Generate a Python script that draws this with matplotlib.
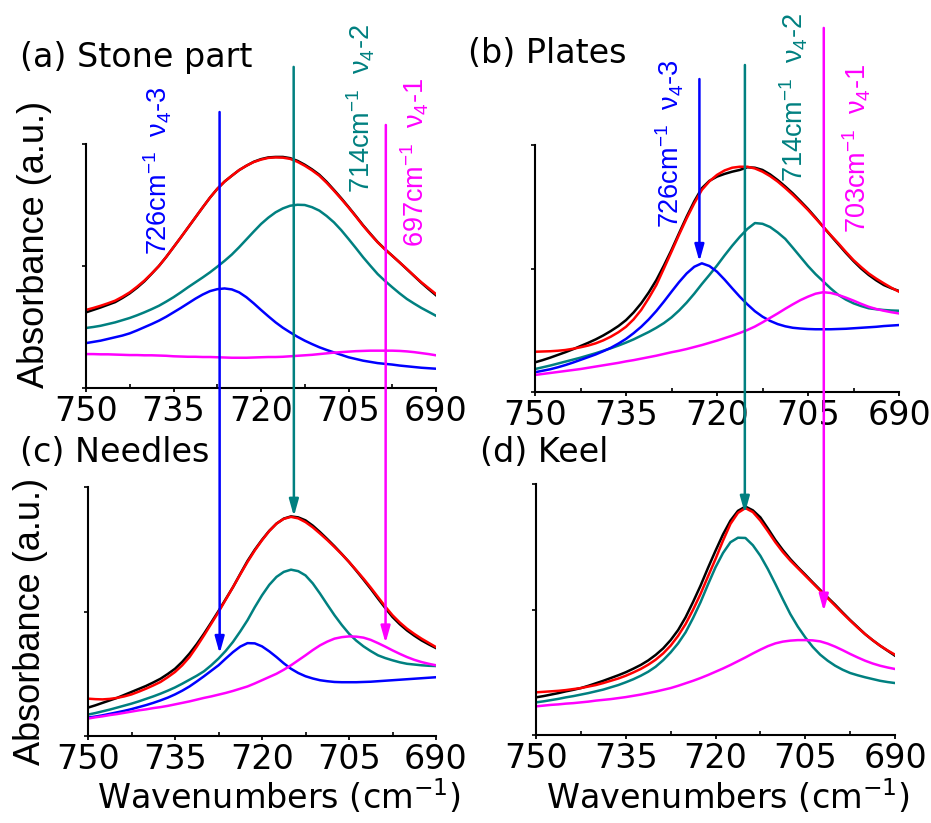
import numpy as np
import matplotlib
matplotlib.use("Agg")
import matplotlib.pyplot as plt
from matplotlib.patches import ConnectionPatch

plt.rcParams["font.family"] = "DejaVu Sans"
plt.rcParams["mathtext.fontset"] = "custom"
plt.rcParams["mathtext.rm"] = "Liberation Sans"
plt.rcParams["mathtext.it"] = "Liberation Sans:italic"
plt.rcParams["mathtext.bf"] = "Liberation Sans:bold"

# wavenumbers (cm-1), sampled every 1.25 from 750 down to 690
wavenumber = np.linspace(750, 690, 49)

# (a) Stone part
stone_measured = [.310, .320, .330, .341, .352, .369, .388, .411, .437, .468, .500, .537, .577, .617,
                  .658, .699, .740, .780, .816, .846, .870, .893, .911, .927, .938, .945, .947, .947,
                  .942, .931, .915, .896, .874, .845, .812, .778, .742, .705, .667, .632, .598, .569,
                  .542, .515, .487, .459, .431, .405, .380]
stone_fit = [.320, .328, .337, .347, .358, .374, .392, .415, .440, .469, .500, .537, .577, .617,
             .658, .699, .740, .780, .816, .846, .870, .893, .911, .926, .936, .943, .945, .944,
             .939, .927, .911, .892, .870, .841, .809, .775, .740, .703, .665, .630, .597, .568,
             .542, .515, .488, .460, .433, .409, .385]
stone_v4_2 = [.246, .250, .255, .262, .269, .278, .287, .298, .310, .323, .337, .354, .372, .392,
              .413, .433, .453, .474, .497, .521, .547, .577, .609, .641, .672, .698, .720, .736,
              .747, .751, .750, .741, .727, .705, .679, .647, .611, .574, .536, .501, .467, .439,
              .413, .388, .365, .346, .328, .312, .296]
stone_v4_3 = [.184, .189, .194, .201, .208, .215, .224, .236, .249, .262, .276, .292, .310, .328,
              .347, .366, .383, .397, .405, .408, .404, .392, .372, .347, .320, .294, .269, .247,
              .228, .210, .194, .180, .167, .156, .146, .136, .126, .119, .112, .107, .102, .099,
              .096, .092, .089, .086, .083, .081, .079]
stone_v4_1 = [.139, .139, .138, .138, .137, .136, .135, .135, .134, .134, .133, .132, .130, .129,
              .128, .128, .127, .127, .126, .125, .124, .124, .124, .125, .126, .127, .127, .128,
              .130, .132, .134, .136, .139, .142, .145, .147, .149, .151, .152, .153, .153, .153,
              .153, .152, .150, .147, .143, .139, .134]

# (b) Plates
plates_measured = [.120, .129, .139, .150, .161, .173, .186, .199, .213, .229, .247, .267, .291, .322,
                   .359, .403, .453, .512, .575, .643, .710, .772, .825, .855, .872, .883, .892, .899,
                   .910, .908, .899, .881, .858, .832, .804, .773, .741, .706, .669, .633, .598, .563,
                   .530, .500, .474, .452, .433, .420, .409]
plates_fit = [.163, .164, .165, .167, .170, .175, .181, .188, .197, .209, .224, .242, .264, .294,
              .332, .380, .433, .500, .568, .637, .703, .764, .818, .853, .879, .897, .908, .912,
              .912, .905, .892, .874, .852, .826, .798, .768, .737, .703, .669, .635, .602, .567,
              .534, .506, .480, .459, .440, .422, .406]
plates_v4_2 = [.093, .100, .107, .115, .123, .131, .139, .148, .157, .167, .177, .188, .200, .213,
               .228, .243, .260, .279, .302, .330, .362, .398, .437, .474, .512, .553, .592, .628,
               .660, .684, .681, .668, .646, .620, .584, .547, .510, .477, .448, .419, .393, .374,
               .359, .348, .339, .335, .332, .330, .329]
plates_v4_3 = [.080, .086, .092, .100, .109, .119, .130, .141, .152, .165, .179, .196, .215, .238,
               .264, .294, .328, .366, .406, .445, .480, .507, .521, .510, .487, .455, .420, .386,
               .355, .327, .305, .288, .275, .266, .260, .257, .255, .254, .254, .254, .255, .256,
               .258, .260, .262, .264, .267, .269, .271]
plates_v4_1 = [.069, .073, .077, .081, .085, .089, .093, .098, .103, .108, .113, .118, .124, .129,
               .135, .141, .147, .154, .161, .167, .174, .182, .190, .199, .208, .218, .228, .239,
               .251, .265, .282, .300, .318, .337, .355, .372, .386, .398, .404, .401, .393, .382,
               .370, .357, .345, .336, .329, .323, .318]

# (c) Needles
needles_measured = [.114, .123, .133, .143, .153, .165, .177, .189, .201, .215, .230, .249, .270, .298,
                    .331, .369, .411, .456, .502, .550, .598, .651, .703, .748, .788, .824, .853, .873,
                    .882, .878, .866, .845, .819, .791, .762, .731, .699, .664, .628, .591, .552, .514,
                    .478, .449, .424, .403, .384, .368, .353]
needles_fit = [.150, .148, .147, .149, .153, .159, .167, .178, .190, .203, .217, .236, .257, .284,
               .317, .359, .404, .451, .498, .548, .598, .649, .699, .745, .786, .823, .853, .872,
               .880, .874, .859, .838, .813, .787, .759, .730, .699, .666, .632, .596, .558, .520,
               .485, .456, .431, .410, .391, .374, .357]
needles_v4_2 = [.086, .092, .099, .106, .114, .122, .130, .139, .149, .159, .170, .182, .195, .210,
                .226, .242, .260, .284, .311, .342, .378, .420, .465, .517, .565, .607, .639, .659,
                .668, .662, .645, .613, .572, .528, .485, .446, .411, .383, .360, .341, .324, .313,
                .304, .296, .290, .287, .284, .282, .281]
needles_v4_3 = [.074, .078, .083, .089, .095, .101, .108, .116, .124, .133, .143, .154, .167, .182,
                .199, .219, .240, .262, .284, .311, .337, .359, .373, .372, .360, .340, .317, .292,
                .270, .253, .240, .231, .224, .220, .217, .216, .216, .216, .217, .218, .220, .222,
                .224, .226, .228, .230, .232, .234, .236]
needles_v4_1 = [.070, .075, .079, .084, .088, .093, .098, .103, .107, .112, .116, .121, .127, .133,
                .139, .146, .153, .159, .166, .173, .181, .190, .199, .211, .224, .237, .250, .266,
                .284, .304, .324, .345, .364, .379, .391, .397, .400, .399, .395, .386, .373, .359,
                .344, .330, .317, .306, .297, .290, .284]

# (d) Keel
keel_measured = [.150, .155, .161, .167, .174, .180, .187, .196, .206, .216, .227, .238, .250, .264,
                 .279, .297, .319, .345, .378, .418, .469, .530, .595, .666, .734, .799, .854, .893,
                 .910, .895, .867, .823, .777, .737, .701, .669, .639, .608, .578, .548, .519, .488,
                 .458, .430, .402, .378, .356, .336, .316]
keel_fit = [.170, .172, .174, .176, .179, .183, .187, .193, .199, .207, .216, .225, .236, .249,
            .263, .280, .300, .325, .356, .395, .442, .499, .562, .632, .701, .774, .841, .885,
            .904, .888, .854, .812, .768, .729, .695, .665, .635, .605, .575, .545, .515, .485,
            .456, .428, .402, .378, .356, .337, .320]
keel_v4_2 = [.130, .134, .139, .144, .150, .155, .161, .167, .174, .181, .190, .199, .210, .222,
             .236, .252, .272, .298, .329, .365, .409, .466, .529, .600, .668, .725, .768, .786,
             .785, .756, .714, .661, .602, .541, .482, .432, .389, .351, .320, .296, .276, .260,
             .247, .238, .230, .223, .216, .211, .207]
keel_v4_1 = [.114, .117, .120, .122, .125, .127, .130, .133, .137, .140, .143, .147, .151, .156,
             .161, .167, .173, .180, .187, .196, .206, .216, .227, .239, .252, .265, .279, .294,
             .309, .325, .340, .354, .365, .372, .376, .378, .378, .377, .373, .364, .352, .338,
             .323, .309, .296, .285, .276, .269, .263]

TEAL = "#008080"
BLUE = "#0000ff"
MAGENTA = "#ff00ff"
RED = "#ff0000"

W, H = 931, 823
fig = plt.figure(figsize=(W / 100, H / 100), dpi=100)


def px_axes(left, top, right, bottom):
    return fig.add_axes([left / W, 1 - bottom / H, (right - left) / W, (bottom - top) / H])


ax_a = px_axes(86, 144, 436, 388)
ax_b = px_axes(535, 145, 899, 392)
ax_c = px_axes(88, 487, 436, 736)
ax_d = px_axes(536, 484, 895, 735)


def style_axes(ax):
    ax.set_xlim(750, 690)
    ax.set_ylim(0, 1)
    ax.set_xticks([750, 735, 720, 705, 690])
    ax.set_xticks([742.5, 727.5, 712.5, 697.5], minor=True)
    ax.set_yticks([0, 0.5, 1])
    ax.set_yticklabels([])
    ax.spines["top"].set_visible(False)
    ax.spines["right"].set_visible(False)
    ax.spines["left"].set_linewidth(1.5)
    ax.spines["bottom"].set_linewidth(1.5)
    ax.tick_params(axis="x", which="major", direction="out", length=3, width=1.3,
                   labelsize=24, pad=2)
    ax.tick_params(axis="x", which="minor", direction="in", length=3, width=1.2)
    ax.tick_params(axis="y", which="major", direction="out", length=3, width=1.2)
    ax.patch.set_alpha(0)


def draw_panel(ax, measured, fit, components):
    ax.plot(wavenumber, measured, color="black", lw=1.8)
    ax.plot(wavenumber, fit, color=RED, lw=1.8)
    for values, color in components:
        ax.plot(wavenumber, values, color=color, lw=1.8)
    style_axes(ax)


draw_panel(ax_a, stone_measured, stone_fit,
           [(stone_v4_2, TEAL), (stone_v4_3, BLUE), (stone_v4_1, MAGENTA)])
draw_panel(ax_b, plates_measured, plates_fit,
           [(plates_v4_2, TEAL), (plates_v4_3, BLUE), (plates_v4_1, MAGENTA)])
draw_panel(ax_c, needles_measured, needles_fit,
           [(needles_v4_2, TEAL), (needles_v4_3, BLUE), (needles_v4_1, MAGENTA)])
draw_panel(ax_d, keel_measured, keel_fit,
           [(keel_v4_2, TEAL), (keel_v4_1, MAGENTA)])


def drop_arrow(ax_from, x_from, y_top, ax_to, x_to, y_tip, color):
    con = ConnectionPatch(xyA=(x_from, y_top), coordsA="data", axesA=ax_from,
                          xyB=(x_to, y_tip), coordsB="data", axesB=ax_to,
                          arrowstyle="-|>,head_length=0.5,head_width=0.14",
                          mutation_scale=20, color=color, lw=1.8,
                          shrinkA=0, shrinkB=0)
    # both ends may sit outside their axes, draw regardless
    con.set_annotation_clip(False)
    fig.add_artist(con)


# peak markers running from the top row down to the bottom row
drop_arrow(ax_a, 727.1, 1.131, ax_c, 727.3, 0.331, BLUE)
drop_arrow(ax_a, 714.4, 1.316, ax_c, 714.5, 0.882, TEAL)
drop_arrow(ax_a, 698.6, 1.078, ax_c, 698.7, 0.373, MAGENTA)
drop_arrow(ax_b, 722.9, 1.267, ax_b, 722.9, 0.528, BLUE)
drop_arrow(ax_b, 715.4, 1.324, ax_d, 715.1, 0.883, TEAL)
drop_arrow(ax_b, 702.4, 1.474, ax_d, 701.9, 0.493, MAGENTA)


def peak_label(ax, x, y, text, color):
    ax.text(x, y, text, color=color, rotation=90, rotation_mode="anchor",
            ha="left", va="baseline", fontsize=19.5, family="Liberation Sans",
            clip_on=False)


peak_label(ax_a, 736.1, 0.545, "726cm$^{-1}$  ν$_4$-3", BLUE)
peak_label(ax_a, 701.3, 0.799, "714cm$^{-1}$  ν$_4$-2", TEAL)
peak_label(ax_a, 691.9, 0.578, "697cm$^{-1}$  ν$_4$-1", MAGENTA)
peak_label(ax_b, 726.1, 0.664, "726cm$^{-1}$  ν$_4$-3", BLUE)
peak_label(ax_b, 705.8, 0.850, "714cm$^{-1}$  ν$_4$-2", TEAL)
peak_label(ax_b, 695.3, 0.644, "703cm$^{-1}$  ν$_4$-1", MAGENTA)

# panel titles
fig.text(20 / W, 1 - 67 / H, "(a) Stone part", fontsize=24, va="baseline")
fig.text(468 / W, 1 - 63 / H, "(b) Plates", fontsize=24, va="baseline")
fig.text(20 / W, 1 - 462 / H, "(c) Needles", fontsize=24, va="baseline")
fig.text(480 / W, 1 - 462 / H, "(d) Keel", fontsize=24, va="baseline")

# axis titles
for x_px, y_px in [(35, 244), (31, 621)]:
    fig.text(x_px / W, 1 - y_px / H, "Absorbance (a.u.)", rotation=90, ha="center",
             va="center", fontsize=26, family="Liberation Sans")
for x_px in [278.5, 727.5]:
    fig.text(x_px / W, 1 - 809 / H, "Wavenumbers (cm$^{-1}$)", ha="center", va="baseline",
             fontsize=24, math_fontfamily="dejavusans")

fig.savefig("out.png", dpi=100)
